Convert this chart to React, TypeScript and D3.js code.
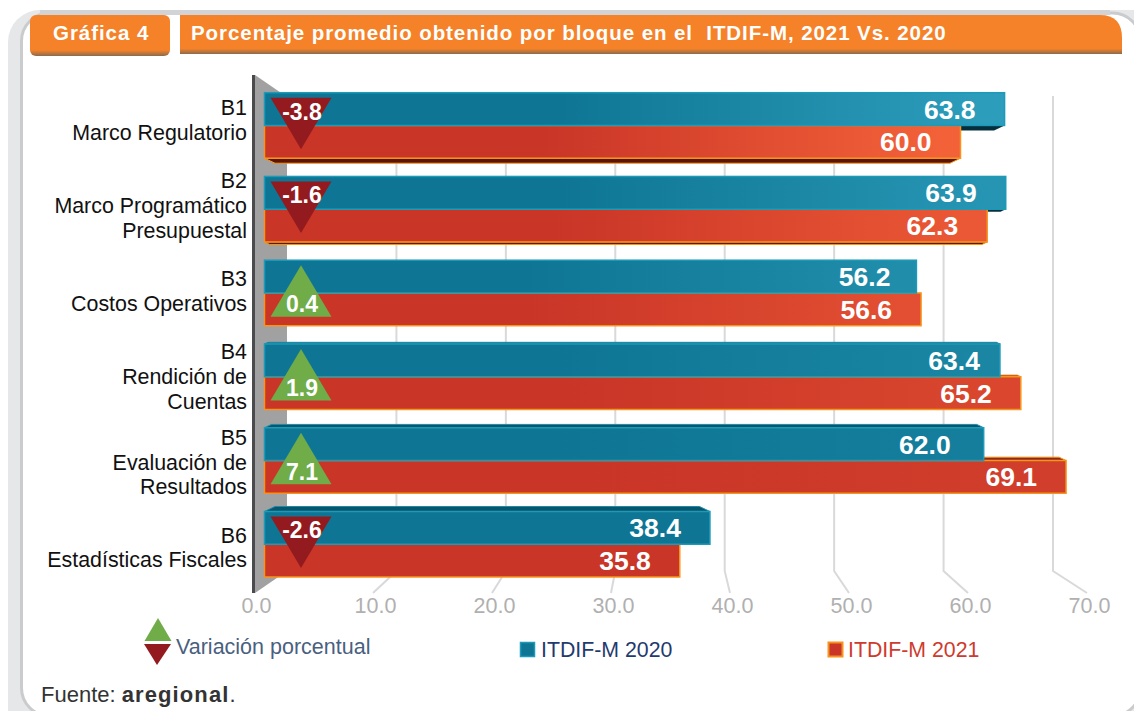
import React from "react";
import * as d3 from "d3";

const blocks = ["B1", "B2", "B3", "B4", "B5", "B6"];
const blockLabels = [
    ["B1", "Marco Regulatorio"],
    ["B2", "Marco Programático", "Presupuestal"],
    ["B3", "Costos Operativos"],
    ["B4", "Rendición de", "Cuentas"],
    ["B5", "Evaluación de", "Resultados"],
    ["B6", "Estadísticas Fiscales"],
];
const series = ["2020", "2021"];
const values2020 = [63.8, 63.9, 56.2, 63.4, 62.0, 38.4];
const values2021 = [60.0, 62.3, 56.6, 65.2, 69.1, 35.8];
const variation = [-3.8, -1.6, 0.4, 1.9, 7.1, -2.6];
const axisTicks = [0, 10, 20, 30, 40, 50, 60, 70];

const ORANGE = "#f58229";
const FONT = "'Liberation Sans', Arial, sans-serif";
// the labels of some 2020 bars sit off the usual distance from the bar end
const labelShift: Record<string, number> = { B3: 3, B4: 9, B5: -4 };

export default function App() {
    const ref = React.useRef<SVGSVGElement>(null);

    React.useEffect(() => {
        const svg = d3.select(ref.current);
        svg.selectAll("*").remove();
        drawChart(svg);
    }, []);

    function drawChart(svg: any) {
        // three x scales: bars, back wall of the 3D box, and the front floor edge
        const xBar = d3.scaleLinear().domain([0, 70]).range([264.5, 1076.5]);
        const xBack = d3.scaleLinear().domain([0, 70]).range([287, 1053]);
        const xFront = d3.scaleLinear().domain([0, 70]).range([254, 1087]);

        const yRow = d3.scaleBand().domain(blocks).range([92.7, 577]).paddingInner(0.218);
        const ySeries = d3.scaleBand().domain(series).range([0, yRow.bandwidth()]);
        const yLabel = d3.scalePoint().domain(blocks).range([120, 547.5]);

        // perspective: bars above the middle show their underside, bars below their top
        const facet = d3.scaleLinear().domain([0, 2, 5]).range([5, 0, -5]);
        const tone = d3.scaleLinear().domain([0, 5]).range([0, 1]).clamp(true);
        const blueTip = d3.interpolateRgb("#2c9dbb", "#0e7694");
        const redTip = d3.interpolateRgb("#f36139", "#c93527");

        const defs = svg.append("defs");
        const shade = defs.append("linearGradient").attr("id", "tabShade").attr("x1", 0).attr("x2", 0).attr("y1", 0).attr("y2", 1);
        shade.append("stop").attr("offset", 0.86).attr("stop-color", ORANGE);
        shade.append("stop").attr("offset", 1).attr("stop-color", "#8c6a4c");

        blocks.forEach((b, i) => {
            [["blue", "#0e7694", blueTip(tone(i))], ["red", "#c93527", redTip(tone(i))]].forEach(([name, base, tip]) => {
                const g = defs.append("linearGradient").attr("id", `${name}${b}`);
                g.append("stop").attr("offset", 0.4).attr("stop-color", base);
                g.append("stop").attr("offset", 0.97).attr("stop-color", tip);
            });
        });

        // frame
        svg.append("rect").attr("x", 8).attr("y", 10).attr("width", 1160).attr("height", 730).attr("rx", 32).attr("fill", "#e6e7e8");
        svg.append("rect").attr("x", 21.5).attr("y", 13).attr("width", 1119).attr("height", 703).attr("rx", 28)
            .attr("fill", "white").attr("stroke", "#c9cbcd").attr("stroke-width", 3);
        svg.append("rect").attr("x", 40).attr("y", 10).attr("width", 1070).attr("height", 5).attr("fill", "#d2d3d5");

        // title tabs
        svg.append("rect").attr("x", 30).attr("y", 15).attr("width", 140).attr("height", 41).attr("rx", 6).attr("fill", "url(#tabShade)");
        svg.append("path")
            .attr("d", "M180,15 H1100 Q1122,15 1122,38 V54 H180 Z")
            .attr("fill", "url(#tabShade)");
        svg.append("text").attr("x", 53).attr("y", 40).attr("font-size", 20.5).attr("font-weight", "bold")
            .attr("letter-spacing", 0.95).attr("fill", "white").attr("font-family", FONT).text("Gráfica 4");
        svg.append("text").attr("x", 191).attr("y", 40).attr("font-size", 20.5).attr("font-weight", "bold")
            .attr("letter-spacing", 0.93).style("white-space", "pre")
            .attr("fill", "white").attr("font-family", FONT)
            .text("Porcentaje promedio obtenido por bloque en el  ITDIF-M, 2021 Vs. 2020");

        // side wall of the 3D box
        svg.append("polygon").attr("points", "255,75 287,97 287,571 255,593").attr("fill", "#a1a1a1");
        svg.append("line").attr("x1", 253.5).attr("x2", 253.5).attr("y1", 75).attr("y2", 593)
            .attr("stroke", "#4b4b4d").attr("stroke-width", 3);

        // gridlines with their floor segment
        const gridLine = d3.line();
        svg.append("g").selectAll("path").data(axisTicks.slice(1)).enter().append("path")
            .attr("d", (t: number) => gridLine([[xBack(t), 96], [xBack(t), 571], [xFront(t), 593]]))
            .attr("fill", "none").attr("stroke", "#d9d9d9").attr("stroke-width", 2);

        svg.append("g").selectAll("text").data(axisTicks).enter().append("text")
            .attr("x", (t: number) => xFront(t) + 2.5).attr("y", 613)
            .attr("text-anchor", "middle").attr("font-size", 21.5).attr("font-family", FONT).attr("fill", "#b0b0b0")
            .text((t: number) => d3.format(".1f")(t));

        // block labels
        blocks.forEach((b, i) => {
            const lines = blockLabels[i];
            lines.forEach((line, k) => {
                svg.append("text").attr("x", 247).attr("y", yLabel(b)! + (k - (lines.length - 1) / 2) * 24.6 + 7.5)
                    .attr("text-anchor", "end").attr("font-size", 21.4).attr("font-family", FONT).attr("fill", "#111").text(line);
            });
        });

        const h = ySeries.bandwidth();
        const barFacet = (v: number, start: number, top: number, d: number) => {
            const x0 = xBar(start), x1 = xBar(v);
            const y = d > 0 ? top + h : top;
            const k = Math.abs(d) * 2.1;
            return `${x0},${y} ${x0 + k},${y + d} ${x1 - k},${y + d} ${x1},${y}`;
        };

        blocks.forEach((b, i) => {
            const top = yRow(b)!;
            const blueY = top + ySeries("2020")!;
            const redY = top + ySeries("2021")!;
            const d = facet(i);
            const g = svg.append("g");

            // facets go first, the fronts of the bars cover what they should hide
            if (Math.abs(d) > 0.5) {
                g.append("polygon").attr("points", barFacet(values2020[i], 0, blueY, d))
                    .attr("fill", d > 0 ? "#062f3e" : "#0b556c").attr("stroke", "#1b8ba8").attr("stroke-width", d > 0 ? 0 : 1);
                g.append("polygon").attr("points", barFacet(values2021[i], 0, redY, d))
                    .attr("fill", d > 0 ? "#5a1508" : "#8f2a18").attr("stroke", "#f7941d").attr("stroke-width", 1);
            }
            g.append("rect").attr("x", xBar(0)).attr("y", redY)
                .attr("width", xBar(values2021[i]) - xBar(0)).attr("height", h)
                .attr("fill", `url(#red${b})`).attr("stroke", "#f7941d").attr("stroke-width", 1.5);
            g.append("rect").attr("x", xBar(0)).attr("y", blueY)
                .attr("width", xBar(values2020[i]) - xBar(0)).attr("height", h)
                .attr("fill", `url(#blue${b})`).attr("stroke", "#1c9ab8").attr("stroke-width", 1.5);

            g.append("text").attr("x", xBar(values2020[i]) - 29 + (labelShift[b] || 0)).attr("y", blueY + h / 2 + 9.5)
                .attr("text-anchor", "end").attr("font-size", 26.5).attr("font-weight", "bold")
                .attr("font-family", FONT).attr("fill", "white").text(values2020[i].toFixed(1));
            g.append("text").attr("x", xBar(values2021[i]) - 29).attr("y", redY + h / 2 + 9.5)
                .attr("text-anchor", "end").attr("font-size", 26.5).attr("font-weight", "bold")
                .attr("font-family", FONT).attr("fill", "white").text(values2021[i].toFixed(1));

            // variation marker
            const up = variation[i] >= 0;
            const cx = 301;
            const yA = top + 5, yB = top + 56.5;
            g.append("polygon")
                .attr("points", up
                    ? `${cx},${yA} ${cx - 30.5},${yB} ${cx + 30.5},${yB}`
                    : `${cx - 30.5},${yA} ${cx + 30.5},${yA} ${cx},${yB}`)
                .attr("fill", up ? "#70ac47" : "#931a1e");
            g.append("text").attr("x", cx + 1).attr("y", up ? top + 52 : top + 27)
                .attr("text-anchor", "middle").attr("font-size", 23).attr("font-weight", "bold")
                .attr("font-family", FONT).attr("fill", "white").text(variation[i].toFixed(1));
        });

        // legend
        svg.append("polygon").attr("points", "158,618 144.5,641 171.5,641").attr("fill", "#70ac47");
        svg.append("polygon").attr("points", "144,644 171,644 157,665").attr("fill", "#931a1e");
        svg.append("text").attr("x", 176).attr("y", 654).attr("font-size", 21.5).attr("font-family", FONT)
            .attr("fill", "#4a5f80").text("Variación porcentual");

        svg.append("rect").attr("x", 520.5).attr("y", 642.5).attr("width", 14).attr("height", 14)
            .attr("fill", "#0e7694").attr("stroke", "#1c9ab8").attr("stroke-width", 1.5);
        svg.append("text").attr("x", 541).attr("y", 657).attr("font-size", 21.3).attr("font-family", FONT)
            .attr("fill", "#1f3a6e").text("ITDIF-M 2020");
        svg.append("rect").attr("x", 828.5).attr("y", 642.5).attr("width", 14).attr("height", 14)
            .attr("fill", "#c93527").attr("stroke", "#f7941d").attr("stroke-width", 2);
        svg.append("text").attr("x", 848).attr("y", 657).attr("font-size", 21.3).attr("font-family", FONT)
            .attr("fill", "#cf3a2e").text("ITDIF-M 2021");

        // source line
        const src = svg.append("text").attr("x", 41).attr("y", 702).attr("font-size", 22)
            .attr("font-family", FONT).attr("fill", "#333");
        src.append("tspan").text("Fuente: ");
        src.append("tspan").attr("font-weight", "bold").attr("letter-spacing", 1.1).text("aregional");
        src.append("tspan").text(".");
    }

    return (
        <svg
            ref={ref}
            width={1134}
            height={711}
            style={{ position: "absolute", left: 0, top: 0, display: "block", background: "white" }}
        />
    );
}
